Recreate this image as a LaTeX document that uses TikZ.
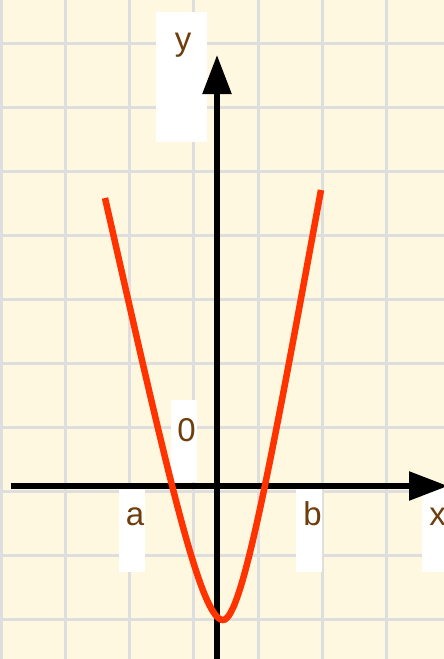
\documentclass[tikz,border=0pt]{standalone}
\usepackage{fontspec}
\setmainfont{Liberation Sans}
\usetikzlibrary{arrows.meta}
\definecolor{bgcream}{RGB}{255,248,225}
\definecolor{gridgray}{RGB}{222,222,222}
\definecolor{curvered}{RGB}{255,51,0}
\definecolor{labelbrown}{RGB}{110,62,12}
\tikzset{
  gridline/.style={draw=gridgray, line width=3pt},
  axisline/.style={draw=black, line width=5.6pt, -{Triangle[length=39pt,width=28pt]}},
  labelbox/.style={fill=white},
  lbl/.style={text=labelbrown, font=\fontsize{33}{40}\selectfont, inner sep=0pt, anchor=base},
  curve/.style={draw=curvered, line width=6.5pt}
}
\begin{document}
\begin{tikzpicture}[x=1pt,y=-1pt]
\useasboundingbox (0,0) rectangle (444,659);
\clip (0,0) rectangle (444,659);
\fill[bgcream] (0,0) rectangle (444,659);
% grid
\foreach \i in {0,...,7} {
  \draw[gridline] ({1.8+64.05*\i},0) -- ({1.8+64.05*\i},659);
}
\foreach \j in {0,...,9} {
  \draw[gridline] (0,{43+64.1*\j}) -- (444,{43+64.1*\j});
}
% label boxes
\fill[labelbox] (156,12) rectangle (207,142);
\fill[labelbox] (171,400) rectangle (197,482);
\fill[labelbox] (119,489) rectangle (145,572);
\fill[labelbox] (296,489) rectangle (322,572);
\fill[labelbox] (422,489) rectangle (450,572);
% axes
\coordinate (xstart) at (11,486);
\coordinate (xend) at (448,486);
\coordinate (ystart) at (217,662);
\coordinate (yend) at (217,55);
\draw[axisline] (xstart) -- (xend);
\draw[axisline] (ystart) -- (yend);
% curve
\draw[curve] (105,198) .. controls (165,462) and (200,620) .. (223,620)
             .. controls (242,620) and (271,462) .. (321,190);
% labels
\node[lbl] (ylabel) at (183,50) {y};
\node[lbl] (zerolabel) at (186.5,441) {0};
\node[lbl] (alabel) at (135,525) {a};
\node[lbl] (blabel) at (312.5,525) {b};
\node[lbl] (xlabel) at (437.5,525) {x};
\end{tikzpicture}
\end{document}
